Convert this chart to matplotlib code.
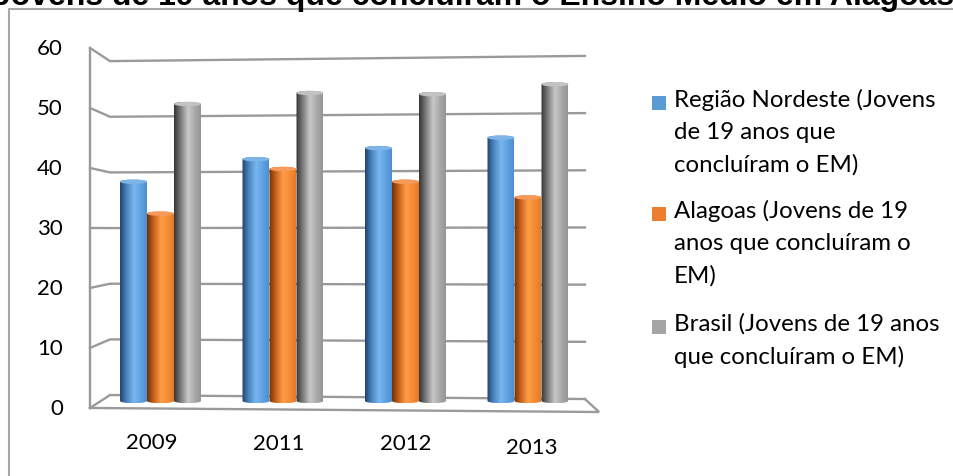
import numpy as np
import matplotlib
matplotlib.use('Agg')
import matplotlib.pyplot as plt
from matplotlib.patches import Polygon, Ellipse, Rectangle
from matplotlib.lines import Line2D
from matplotlib.colors import LinearSegmentedColormap

# dados
anos = ['2009', '2011', '2012', '2013']
nordeste = [37.8, 41.7, 43.6, 45.4]
alagoas = [32.3, 40.0, 37.8, 35.1]
brasil = [51.2, 53.1, 52.9, 54.6]
nomes = ['Região Nordeste (Jovens\nde 19 anos que\nconcluíram o EM)',
         'Alagoas (Jovens de 19\nanos que concluíram o\nEM)',
         'Brasil (Jovens de 19 anos\nque concluíram o EM)']
yticks = [0, 10, 20, 30, 40, 50, 60]
titulo = 'Jovens de 19 anos que concluíram o Ensino Médio em Alagoas'

cores = ['#5B9BD5', '#ED7D31', '#A5A5A5']
# sombreamento dos cilindros (esquerda escura -> brilho -> direita)
grad = [
    ['#22446a', '#4a86c2', '#78b6f0', '#5d9fe0', '#4f8fd0'],
    ['#6e3208', '#c9621c', '#ff9c48', '#f58a34', '#e57a28'],
    ['#363636', '#7c7c7c', '#c8c8c8', '#a6a6a6', '#959595'],
]
topos = ['#7fb5e6', '#f59a5a', '#c2c2c2']

W, H = 954, 477
fig = plt.figure(figsize=(W / 100, H / 100), dpi=100)
ax = fig.add_axes([0, 0, 1, 1])
ax.axis('off')

# escala: centro do 1o grupo, largura do grupo, base e px por unidade
x0, dx, base, sy = 160.5, 122.5, 402.0, 5.8
xlim = (-x0 / dx, (W - x0) / dx)
ylim = ((base - H) / sy, base / sy)

# caixa 3D: parede lateral, parede do fundo e piso
FL, BL, BR, FR = -0.5755, -0.412, 3.465, 3.58
frente = lambda v: -1.2 + 1.0345 * v
fundo_esq = lambda v: 1.03 + 0.9595 * v
fundo_dir = lambda v: 0.34 + 0.986 * v
cinza = '#9a9a9a'
for v in yticks:
    ax.plot([FL, BL, BR], [frente(v), fundo_esq(v), fundo_dir(v)],
            color=cinza, lw=1.7, zorder=1, solid_joinstyle='miter')
    ax.text(-0.796, frente(v), str(v), ha='right', va='center',
            fontsize=16, family='Lato', color='#000000')
ax.plot([FL, FL], [frente(0), frente(max(yticks))], color=cinza, lw=1.7, zorder=1)
ax.plot([FL, FR, BR], [frente(0), -1.9, fundo_dir(0)], color=cinza, lw=1.7,
        zorder=1, solid_joinstyle='miter')


def cilindro(rect, cols, topo):
    xa, w, h = rect.get_x(), rect.get_width(), rect.get_height()
    rx, ry = w / 2, 0.38
    xc = xa + rx
    t = np.linspace(np.pi, 2 * np.pi, 40)
    baixo = np.column_stack([xc + rx * np.cos(t), ry * np.sin(t)])
    t2 = np.linspace(0, np.pi, 40)
    cima = np.column_stack([xc + rx * np.cos(t2), h + ry * np.sin(t2)])
    corpo = Polygon(np.vstack([baixo, cima]), closed=True,
                    facecolor='none', edgecolor='none')
    ax.add_patch(corpo)
    cmap = LinearSegmentedColormap.from_list('c', list(zip([0, 0.25, 0.52, 0.8, 1], cols)))
    img = ax.imshow(np.linspace(0, 1, 64)[None, :], cmap=cmap, aspect='auto',
                    extent=[xa, xa + w, -ry, h + ry], interpolation='bilinear',
                    zorder=3)
    img.set_clip_path(corpo)
    ax.add_patch(Ellipse((xc, h), w, 2 * ry, facecolor=topo,
                         edgecolor='none', zorder=4))
    rect.set_visible(False)


bw = 27 / dx
xs = np.arange(len(anos))
for k, (vals, cols, topo) in enumerate(zip([nordeste, alagoas, brasil], grad, topos)):
    barras = ax.bar(xs + (k - 1) * bw, vals, bw, color=cores[k], zorder=3)
    for r in barras:
        cilindro(r, cols, topo)

# rótulos das categorias (com leve perspectiva)
ycat = [-7.1, -7.2, -7.2, -7.9]
for i, a in enumerate(anos):
    ax.text(-0.07 + 1.034 * i, ycat[i], a, ha='center',
            va='center', fontsize=16, family='Lato', color='#000000')

ax.set_xlim(*xlim)
ax.set_ylim(*ylim)

# legenda
ly = [104, 215, 328]
for k in range(3):
    fig.add_artist(Rectangle((652 / W, 1 - (ly[k] + 7) / H), 14 / W, 14 / H,
                             transform=fig.transFigure, facecolor=cores[k],
                             edgecolor='none'))
    fig.text(674 / W, 1 - (ly[k] - 15) / H, nomes[k], ha='left', va='top',
             fontsize=17.3, family='Lato', linespacing=1.64, color='#000000')

# título (cortado no topo) e borda
fig.text(0.496, 1 - 5 / H, titulo, ha='center', va='baseline', fontsize=23,
         fontweight='bold', family='Liberation Sans')
yb = 1 - 9.5 / H
fig.add_artist(Line2D([9.5 / W, 9.5 / W, 1], [0, yb, yb], transform=fig.transFigure,
                      color='#a6a6a6', lw=1.5))

fig.savefig('out.png', dpi=100)
